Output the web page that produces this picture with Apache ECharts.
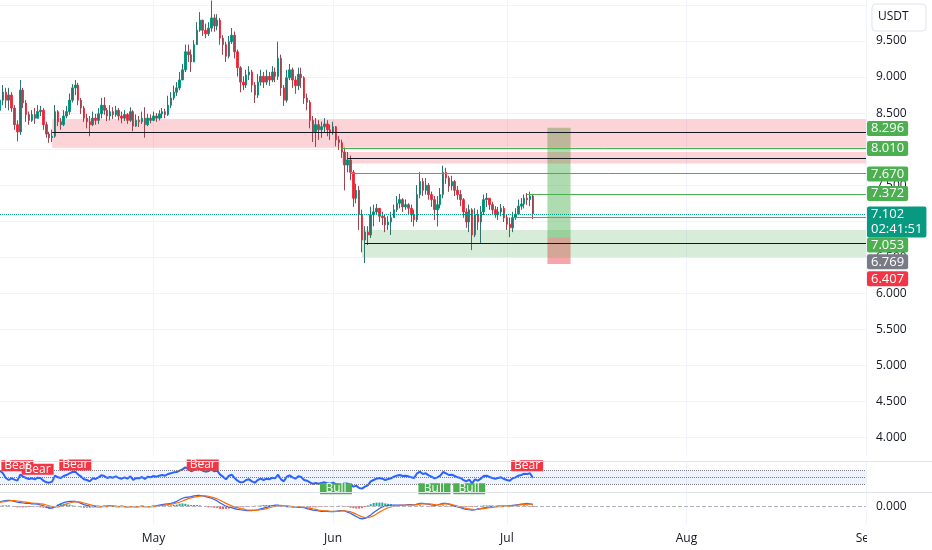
<!DOCTYPE html>
<html><head><meta charset="utf-8">
<script src="https://cdn.jsdelivr.net/npm/echarts@6.0.0/dist/echarts.min.js"></script>
<style>html,body{margin:0;padding:0;background:#fff}#c{width:932px;height:550px}</style>
</head><body><div id="c"></div>
<script>
// ---------- DATA ----------
const MONTH_NAMES = ['Jan','Feb','Mar','Apr','May','Jun','Jul','Aug','Sep','Oct','Nov','Dec'];
const FIRST_OPEN = 8.54;
const closes = [8.68,8.79,8.68,8.75,8.57,8.34,8.24,8.82,8.64,8.48,
8.40,8.48,8.43,8.52,8.54,8.34,8.21,8.16,8.18,8.52,
8.38,8.34,8.46,8.52,8.68,8.85,8.89,8.68,8.57,8.43,
8.38,8.34,8.43,8.40,8.49,8.61,8.54,8.46,8.52,8.48,
8.54,8.46,8.43,8.48,8.40,8.52,8.32,8.40,8.38,8.43,
8.34,8.43,8.40,8.46,8.43,8.49,8.52,8.48,8.61,8.71,
8.79,8.85,8.96,9.10,9.35,9.31,9.21,9.45,9.65,9.79,
9.65,9.60,9.68,9.82,9.71,9.79,9.54,9.45,9.29,9.49,
9.58,9.35,9.13,8.93,8.89,9.03,9.07,8.89,8.75,8.93,
9.01,8.93,9.01,8.96,9.07,9.01,9.26,8.85,8.68,8.99,
9.10,8.96,8.88,9.04,8.99,8.71,8.65,8.40,8.24,8.34,
8.27,8.31,8.35,8.27,8.24,8.31,8.13,8.09,7.96,7.78,
7.85,7.68,7.32,7.43,7.09,6.74,6.85,6.81,7.09,7.13,
7.18,7.07,7.05,6.95,6.99,7.05,7.16,7.25,7.30,7.20,
7.23,7.18,7.09,7.02,7.37,7.55,7.43,7.50,7.37,7.30,
7.16,7.23,7.37,7.68,7.60,7.49,7.55,7.43,7.37,7.30,
7.13,6.99,7.16,6.81,7.09,6.99,7.13,7.30,7.32,7.23,
7.16,7.09,7.13,7.18,7.05,6.96,6.91,7.05,7.10,7.21,
7.24,7.32,7.30,7.35,7.102];
const highs = [9.00,8.89,8.85,8.85,8.79,8.61,8.40,8.96,8.85,8.68,
8.52,8.54,8.57,8.61,8.60,8.57,8.38,8.24,8.27,8.61,
8.54,8.43,8.54,8.60,8.77,8.90,8.96,8.92,8.71,8.60,
8.49,8.46,8.52,8.49,8.57,8.71,8.72,8.57,8.61,8.58,
8.60,8.57,8.52,8.54,8.50,8.58,8.54,8.48,8.46,8.52,
8.58,8.49,8.48,8.52,8.50,8.54,8.57,8.56,8.74,8.79,
8.88,8.93,9.07,9.18,9.45,9.45,9.38,9.51,9.76,9.90,
9.79,9.74,9.76,10.06,9.87,9.87,9.82,9.58,9.49,9.57,
9.68,9.63,9.38,9.15,9.01,9.10,9.15,9.10,8.93,9.04,
9.10,9.07,9.10,9.07,9.15,9.13,9.49,9.31,8.89,9.10,
9.18,9.13,9.01,9.13,9.13,9.01,8.77,8.68,8.46,8.43,
8.40,8.38,8.43,8.40,8.34,8.38,8.32,8.18,8.13,8.02,
7.96,7.91,7.71,7.52,7.49,7.16,6.93,6.93,7.20,7.23,
7.24,7.18,7.13,7.10,7.07,7.13,7.23,7.35,7.38,7.32,
7.30,7.25,7.23,7.16,7.50,7.68,7.60,7.60,7.53,7.41,
7.35,7.35,7.46,7.77,7.74,7.63,7.63,7.57,7.49,7.43,
7.32,7.18,7.23,7.18,7.18,7.16,7.21,7.37,7.39,7.32,
7.27,7.21,7.20,7.24,7.21,7.10,7.05,7.13,7.18,7.30,
7.32,7.37,7.39,7.41,7.38];
const lows = [8.43,8.61,8.57,8.54,8.52,8.27,8.11,8.20,8.57,8.38,
8.34,8.38,8.35,8.43,8.46,8.27,8.16,8.09,8.10,8.16,
8.32,8.27,8.32,8.43,8.48,8.65,8.75,8.61,8.49,8.38,
8.29,8.18,8.32,8.34,8.35,8.43,8.48,8.39,8.40,8.42,
8.45,8.40,8.36,8.39,8.35,8.38,8.25,8.31,8.31,8.35,
8.16,8.32,8.36,8.39,8.38,8.40,8.43,8.43,8.46,8.57,
8.68,8.74,8.82,8.96,9.07,9.21,9.07,9.21,9.45,9.63,
9.57,9.54,9.57,9.63,9.63,9.65,9.45,9.31,9.21,9.26,
9.46,9.26,9.01,8.79,8.82,8.85,8.96,8.79,8.64,8.71,
8.88,8.85,8.89,8.88,8.93,8.93,8.96,8.74,8.60,8.65,
8.96,8.85,8.77,8.82,8.85,8.63,8.54,8.29,8.10,8.03,
8.13,8.16,8.23,8.18,8.13,8.20,8.04,7.99,7.88,7.43,
7.68,7.57,7.20,7.25,6.88,6.57,6.42,6.67,6.77,6.93,
7.09,6.99,6.95,6.85,6.88,6.81,7.05,7.13,7.18,7.13,
7.16,7.10,6.99,6.93,6.99,7.32,7.35,7.37,7.30,7.20,
7.02,6.93,7.18,7.32,7.52,7.41,7.43,7.35,7.30,7.21,
7.05,6.91,6.85,6.60,6.78,6.88,6.70,7.09,7.20,7.16,
7.09,7.05,7.02,7.07,6.99,6.88,6.78,6.85,7.02,7.10,
7.16,7.18,7.23,7.21,7.03];
const rsi = [70,62,48,42,47,43,40,58,52,48,
45,47,44,49,48,40,35,34,37,55,
50,48,54,57,62,66,67,58,52,44,
42,38,47,45,50,56,54,48,51,49,
53,48,46,50,46,53,42,48,47,51,
45,52,50,54,52,55,57,55,60,62,
65,66,70,74,80,76,68,72,75,76,
70,67,69,74,68,70,58,52,44,54,
58,48,40,35,36,42,44,38,34,42,
46,42,46,44,49,47,58,44,38,52,
56,50,46,53,51,42,40,35,30,33,
31,33,35,32,31,34,29,28,26,33,
31,27,22,25,18,16,22,26,38,42,
46,48,46,42,45,47,52,55,57,54,
55,53,50,48,62,67,60,62,56,52,
47,50,55,66,62,57,58,54,50,48,
42,38,43,32,44,40,46,54,55,51,
48,46,48,50,45,42,40,47,50,55,
57,61,60,62,48];
const macd = [0.11,0.13,0.14,0.15,0.14,0.12,0.10,0.09,0.08,0.07,
0.07,0.06,0.06,0.05,0.03,0.01,-0.02,-0.05,-0.05,-0.02,
0.02,0.06,0.09,0.11,0.12,0.12,0.12,0.10,0.07,0.04,
0.02,0.0,-0.01,-0.01,-0.02,-0.01,0.0,0.0,0.01,0.0,
-0.01,-0.01,0.0,-0.01,-0.02,-0.01,-0.01,-0.02,-0.01,0.0,
-0.01,-0.01,-0.01,0.0,0.01,0.03,0.04,0.05,0.06,0.07,
0.09,0.12,0.16,0.20,0.22,0.23,0.24,0.26,0.27,0.27,
0.26,0.24,0.22,0.20,0.17,0.13,0.08,0.04,0.0,-0.02,
-0.04,-0.06,-0.08,-0.09,-0.10,-0.11,-0.11,-0.11,-0.10,-0.09,
-0.07,-0.05,-0.03,-0.01,0.01,0.03,0.03,0.01,0.0,-0.01,
-0.01,-0.02,-0.02,-0.03,-0.03,-0.04,-0.06,-0.08,-0.10,-0.11,
-0.12,-0.13,-0.13,-0.13,-0.14,-0.14,-0.13,-0.12,-0.11,-0.12,
-0.15,-0.18,-0.22,-0.26,-0.30,-0.32,-0.31,-0.27,-0.22,-0.16,
-0.11,-0.06,-0.02,0.0,0.02,0.03,0.03,0.03,0.03,0.03,
0.03,0.04,0.04,0.03,0.05,0.07,0.07,0.06,0.05,0.03,
0.02,0.03,0.05,0.07,0.07,0.05,0.02,0.0,-0.02,-0.04,
-0.06,-0.08,-0.09,-0.10,-0.09,-0.07,-0.06,-0.04,-0.03,-0.02,
-0.01,-0.01,0.0,0.0,0.0,0.0,0.01,0.02,0.03,0.04,
0.05,0.06,0.07,0.06,0.03];
const signal = [0.10,0.11,0.12,0.13,0.14,0.14,0.13,0.12,0.11,0.10,
0.09,0.08,0.07,0.07,0.06,0.05,0.03,0.01,-0.01,-0.02,
-0.02,0.0,0.03,0.06,0.08,0.10,0.11,0.11,0.10,0.08,
0.06,0.04,0.02,0.01,0.0,-0.01,-0.01,-0.01,0.0,0.0,
0.0,-0.01,-0.01,-0.01,-0.01,-0.01,-0.01,-0.01,-0.01,-0.01,
-0.01,-0.01,-0.01,-0.01,0.0,0.01,0.02,0.03,0.04,0.05,
0.06,0.08,0.10,0.13,0.16,0.19,0.21,0.23,0.24,0.25,
0.26,0.26,0.25,0.23,0.21,0.18,0.15,0.11,0.07,0.04,
0.01,-0.02,-0.04,-0.06,-0.07,-0.09,-0.10,-0.10,-0.11,-0.10,
-0.09,-0.08,-0.06,-0.04,-0.02,0.0,0.01,0.02,0.01,0.01,
0.0,-0.01,-0.01,-0.02,-0.02,-0.03,-0.04,-0.05,-0.07,-0.08,
-0.10,-0.11,-0.12,-0.12,-0.13,-0.13,-0.13,-0.13,-0.12,-0.12,
-0.13,-0.14,-0.17,-0.20,-0.24,-0.27,-0.29,-0.29,-0.27,-0.24,
-0.20,-0.15,-0.11,-0.07,-0.04,-0.02,0.0,0.01,0.02,0.02,
0.03,0.03,0.03,0.03,0.04,0.05,0.06,0.06,0.06,0.05,
0.04,0.03,0.04,0.05,0.06,0.06,0.04,0.02,0.0,-0.02,
-0.04,-0.06,-0.07,-0.08,-0.09,-0.08,-0.07,-0.06,-0.05,-0.04,
-0.03,-0.02,-0.01,-0.01,0.0,0.0,0.0,0.01,0.02,0.03,
0.04,0.04,0.05,0.06,0.05];

const SUPPLY_ZONES = [
  {start:'2025-04-13 12:00', top:8.42, bottom:8.02, mid:8.23, midStart:'2025-04-13 12:00'},
  {start:'2025-06-02 12:00', top:7.96, bottom:7.80, mid:7.88, midStart:'2025-06-03 12:00'}
];
const DEMAND_ZONES = [
  {start:'2025-06-06 00:00', top:6.88, bottom:6.50, mid:6.70, midStart:'2025-06-06 12:00'}
];
const LEVEL_LINES = [
  {start:'2025-06-02 12:00', value:8.010},
  {start:'2025-06-04 00:00', value:7.670},
  {start:'2025-07-04 12:00', value:7.372},
  {start:'2025-07-02 12:00', value:7.053}
];
const POSITION = {start:'2025-07-08 00:00', end:'2025-07-12 00:00', entry:6.769, target:8.296, stop:6.407};
const LAST_PRICE = 7.102;
const COUNTDOWN = '02:41:51';
const RSI_BEAR = [['2025-04-07 12:00',85],['2025-04-11 00:00',74],['2025-04-17 12:00',87],['2025-05-09 12:00',87],['2025-07-04 12:00',85]];
const RSI_BULL = [['2025-06-01 12:00',16],['2025-06-18 12:00',16],['2025-06-24 12:00',16]];
const RSI_LEVELS = [70,50,30];

// ---------- CATEGORIES (12h slots) ----------
const START = Date.UTC(2025,3,4,12);
const SLOTS = 300;
const categories = [];
for (let k=0;k<SLOTS;k++){ categories.push(new Date(START+k*43200000).toISOString().slice(0,16).replace('T',' ')); }
const END = categories[categories.length-1];
const isMonthStart = (i,v) => v.slice(8,16)==='01 00:00';
const monthLabel = v => MONTH_NAMES[parseInt(v.slice(5,7),10)-1];

const candles = closes.map((c,i)=>[i===0?FIRST_OPEN:closes[i-1], c, lows[i], highs[i]]);
const wicks = closes.map((c,i)=>[c, c, lows[i], highs[i]]);
const hist = macd.map((m,i)=>+(m-signal[i]).toFixed(3));

// ---------- STYLE ----------
const FONT = 'Open Sans';
const GREEN = '#4caf50', TEAL = '#089981', RED = '#f23645', GRAY = '#787b86', INK = '#131722';
function tag(text, bg, dy, lh){
  return {show:true, position:'end', distance:1, formatter:text, backgroundColor:bg, color:'#fff',
    fontSize:13, fontFamily:FONT, padding:[1,4,0,4], borderRadius:2, offset:[0,dy], lineHeight:lh||14};
}
const hidden = {color:'rgba(0,0,0,0)', width:1};

const zoneAreas = [];
SUPPLY_ZONES.forEach(z=>zoneAreas.push([{xAxis:z.start,yAxis:z.top,itemStyle:{color:'rgba(242,54,69,0.22)'}},{xAxis:END,yAxis:z.bottom}]));
DEMAND_ZONES.forEach(z=>zoneAreas.push([{xAxis:z.start,yAxis:z.top,itemStyle:{color:'rgba(76,175,80,0.22)'}},{xAxis:END,yAxis:z.bottom}]));

const lineMarks = [];
SUPPLY_ZONES.concat(DEMAND_ZONES).forEach(z=>lineMarks.push([{xAxis:z.midStart,yAxis:z.mid,lineStyle:{color:INK,width:1.2,type:'solid'},label:{show:false}},{xAxis:END,yAxis:z.mid}]));
const tagOffsets = [0,1,-1,27.5];
LEVEL_LINES.forEach((l,k)=>lineMarks.push([{xAxis:l.start,yAxis:l.value,lineStyle:{color:GREEN,width:1,type:'solid'},label:tag(l.value.toFixed(3),GREEN,tagOffsets[k])},{xAxis:END,yAxis:l.value}]));
lineMarks.push({yAxis:LAST_PRICE,lineStyle:{color:TEAL,width:1,type:'dotted'},label:tag(LAST_PRICE.toFixed(3)+'\n'+COUNTDOWN,TEAL,8,15)});
lineMarks.push({yAxis:POSITION.target,lineStyle:hidden,label:tag(POSITION.target.toFixed(3),GREEN,1)});
lineMarks.push({yAxis:POSITION.entry,lineStyle:hidden,label:tag(POSITION.entry.toFixed(3),GRAY,24)});
lineMarks.push({yAxis:POSITION.stop,lineStyle:hidden,label:tag(POSITION.stop.toFixed(3),RED,15)});

const xAxes = [0,1,2].map(g=>({type:'category',gridIndex:g,data:categories,boundaryGap:false,
  axisLine:{show:false},axisTick:{show:false},
  axisLabel:{show:g===2,interval:isMonthStart,formatter:monthLabel,color:INK,fontSize:12,fontFamily:FONT,margin:9},
  splitLine:{show:true,interval:isMonthStart,lineStyle:{color:'#f0f3fa',width:1}}}));

const option = {
  animation:false,
  backgroundColor:'#ffffff',
  textStyle:{fontFamily:FONT},
  grid:[
    {left:0,right:66,top:0,height:455.6},
    {left:0,right:66,top:461.7,height:30.6},
    {left:0,right:66,top:492.3,height:31.7}
  ],
  xAxis:xAxes,
  yAxis:[
    {type:'value',gridIndex:0,position:'right',min:3.75,max:10.069,interval:0.25,scale:true,
     axisLine:{show:false},axisTick:{show:false},
     axisLabel:{color:INK,fontSize:12,fontFamily:FONT,margin:10,
       formatter:v=>{const d=v*2; return (Math.abs(d-Math.round(d))<1e-6 && v>=3.99 && v<=9.51)?v.toFixed(3):'';}},
     splitLine:{show:true,lineStyle:{color:['rgba(0,0,0,0)','#f0f3fa'],width:1}}},
    {type:'value',gridIndex:1,min:5,max:97,show:false},
    {type:'value',gridIndex:2,position:'right',min:-0.45,max:0.35,interval:0.45,
     axisLine:{show:false},axisTick:{show:false},splitLine:{show:false},
     axisLabel:{color:INK,fontSize:12,fontFamily:FONT,margin:10,formatter:v=>Math.abs(v)<1e-9?'0.000':''}}
  ],
  series:[
    {type:'line',name:'position',xAxisIndex:0,yAxisIndex:0,data:[],z:1,silent:true,
     markArea:{silent:true,data:[
       [{xAxis:POSITION.start,yAxis:POSITION.target,itemStyle:{color:'rgba(76,175,80,0.45)'}},{xAxis:POSITION.end,yAxis:POSITION.entry}],
       [{xAxis:POSITION.start,yAxis:POSITION.entry,itemStyle:{color:'rgba(242,54,69,0.45)'}},{xAxis:POSITION.end,yAxis:POSITION.stop}]
     ]}},
    {type:'line',name:'zones',xAxisIndex:0,yAxisIndex:0,data:[],z:2,silent:true,
     markArea:{silent:true,data:zoneAreas}},
    {type:'candlestick',name:'price',xAxisIndex:0,yAxisIndex:0,data:candles,z:3,barWidth:2,
     itemStyle:{color:TEAL,color0:RED,borderColor:TEAL,borderColor0:RED,borderWidth:1}},
    {type:'candlestick',name:'wicks',xAxisIndex:0,yAxisIndex:0,data:wicks,z:4,barWidth:0.5,silent:true,
     itemStyle:{color:'rgba(80,83,94,0.55)',color0:'rgba(80,83,94,0.55)',borderColor:'rgba(80,83,94,0.55)',borderColor0:'rgba(80,83,94,0.55)',borderWidth:1}},
    {type:'line',name:'levels',xAxisIndex:0,yAxisIndex:0,data:[],z:5,silent:true,
     markLine:{silent:true,symbol:['none','none'],animation:false,data:lineMarks}},
    {type:'line',name:'RSI',xAxisIndex:1,yAxisIndex:1,data:rsi,symbol:'none',z:3,
     lineStyle:{color:'#2962ff',width:2},
     markArea:{silent:true,data:[[{xAxis:categories[0],yAxis:RSI_LEVELS[2],itemStyle:{color:'rgba(41,98,255,0.08)'}},{xAxis:END,yAxis:RSI_LEVELS[0]}]]},
     markLine:{silent:true,symbol:['none','none'],label:{show:false},
       lineStyle:{color:GRAY,type:'dotted',width:1},data:RSI_LEVELS.map(v=>({yAxis:v}))},
     markPoint:{silent:true,symbol:'rect',symbolSize:[32,11],
       label:{show:true,formatter:'{b}',color:'#fff',fontSize:12,fontFamily:FONT},
       data:RSI_BEAR.map(p=>({name:'Bear',coord:p,itemStyle:{color:RED}}))
         .concat(RSI_BULL.map(p=>({name:'Bull',coord:p,itemStyle:{color:GREEN}})))}},
    {type:'bar',name:'hist',xAxisIndex:2,yAxisIndex:2,barWidth:2,z:2,
     data:hist.map(h=>({value:h,itemStyle:{color:h>=0?'#26a69a':'#ff5252'}}))},
    {type:'line',name:'MACD',xAxisIndex:2,yAxisIndex:2,data:macd,symbol:'none',z:3,
     lineStyle:{color:'#2962ff',width:1.2},
     markLine:{silent:true,symbol:['none','none'],label:{show:false},
       lineStyle:{color:'#b2b5be',type:'dashed',width:1},data:[{yAxis:0}]}},
    {type:'line',name:'Signal',xAxisIndex:2,yAxisIndex:2,data:signal,symbol:'none',z:3,
     lineStyle:{color:'#ff6d00',width:1.2}}
  ],
  graphic:[
    {type:'line',z:50,shape:{x1:0,y1:461.5,x2:932,y2:461.5},style:{stroke:'#e0e3eb',lineWidth:1}},
    {type:'line',z:50,shape:{x1:0,y1:492.5,x2:932,y2:492.5},style:{stroke:'#e0e3eb',lineWidth:1}},
    {type:'rect',z:60,shape:{x:867,y:526,width:65,height:24},style:{fill:'#ffffff'}},
    {type:'rect',z:60,shape:{x:872,y:4,width:54,height:27,r:4},style:{fill:'#ffffff',stroke:'#e0e3eb',lineWidth:1}},
    {type:'text',z:61,x:878,y:11,style:{text:'USDT',fill:INK,fontSize:12,fontFamily:FONT}}
  ]
};
const chart = echarts.init(document.getElementById('c'));
chart.setOption(option);
</script>
</body></html>
